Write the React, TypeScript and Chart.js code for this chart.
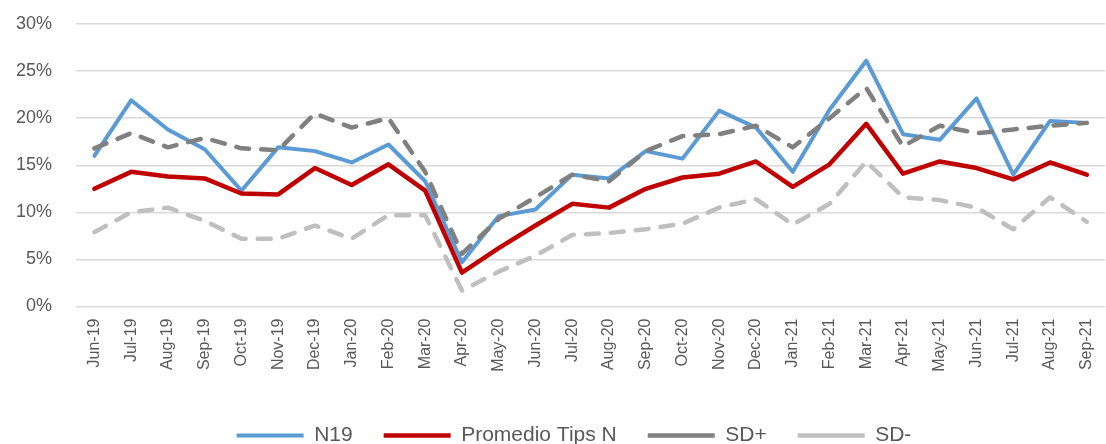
import React, { useEffect, useRef } from "react";
import { Chart, registerables } from "chart.js";

Chart.register(...registerables);

const months = [
  "Jun-19", "Jul-19", "Aug-19", "Sep-19", "Oct-19", "Nov-19", "Dec-19",
  "Jan-20", "Feb-20", "Mar-20", "Apr-20", "May-20", "Jun-20", "Jul-20",
  "Aug-20", "Sep-20", "Oct-20", "Nov-20", "Dec-20", "Jan-21", "Feb-21",
  "Mar-21", "Apr-21", "May-21", "Jun-21", "Jul-21", "Aug-21", "Sep-21",
];

const n19 = [
  16.0, 21.9, 18.8, 16.7, 12.3, 16.9, 16.5, 15.3, 17.2, 13.3, 4.7, 9.6, 10.3, 14.0,
  13.6, 16.5, 15.7, 20.8, 19.0, 14.3, 20.9, 26.1, 18.3, 17.7, 22.1, 14.0, 19.7, 19.5,
];

const promedioTipsN = [
  12.5, 14.3, 13.8, 13.6, 12.0, 11.9, 14.7, 12.9, 15.1, 12.3, 3.6, 6.2, 8.6, 10.9,
  10.5, 12.5, 13.7, 14.1, 15.4, 12.7, 15.1, 19.4, 14.1, 15.4, 14.7, 13.5, 15.3, 14.0,
];

const sdPlus = [
  16.8, 18.4, 16.9, 17.9, 16.8, 16.6, 20.5, 19.0, 20.0, 14.3, 5.6, 9.3, 11.6, 14.0,
  13.3, 16.5, 18.1, 18.3, 19.2, 16.9, 20.0, 23.2, 17.0, 19.2, 18.4, 18.8, 19.2, 19.5,
];

const sdMinus = [
  7.9, 10.0, 10.5, 9.1, 7.2, 7.2, 8.6, 7.2, 9.7, 9.7, 1.7, 3.7, 5.4, 7.6,
  7.8, 8.2, 8.8, 10.5, 11.4, 8.7, 10.9, 15.4, 11.6, 11.3, 10.5, 8.2, 11.6, 9.0,
];

const seriesNames = ["N19", "Promedio Tips N", "SD+", "SD-"];
const yTickMax = 30;
const yTickStep = 5;

const TEXT = "#595959";

const legendShift = {
  id: "legendShift",
  afterLayout(chart: any) {
    if (chart.legend) {
      chart.legend.left += 10;
      chart.legend.right += 10;
    }
  },
};

export default function App() {
  const ref = useRef<HTMLCanvasElement>(null);

  useEffect(() => {
    if (!ref.current) return;
    const common = {
      pointRadius: 0,
      pointHoverRadius: 0,
      tension: 0,
      fill: false,
      borderCapStyle: "round" as const,
      borderJoinStyle: "round" as const,
    };
    const chart = new Chart(ref.current, {
      type: "line",
      data: {
        labels: months,
        datasets: [
          {
            ...common,
            label: seriesNames[0],
            data: n19,
            borderColor: "#5B9BD5",
            backgroundColor: "#5B9BD5",
            borderWidth: 4,
            order: 4,
          },
          {
            ...common,
            label: seriesNames[1],
            data: promedioTipsN,
            borderColor: "#C00000",
            backgroundColor: "#C00000",
            borderWidth: 4.5,
            order: 3,
          },
          {
            ...common,
            label: seriesNames[2],
            data: sdPlus,
            borderColor: "#808080",
            backgroundColor: "#808080",
            borderWidth: 4.5,
            borderDash: [13, 12],
            order: 2,
          },
          {
            ...common,
            label: seriesNames[3],
            data: sdMinus,
            borderColor: "#BFBFBF",
            backgroundColor: "#BFBFBF",
            borderWidth: 4.5,
            borderDash: [13, 12],
            order: 1,
          },
        ],
      },
      options: {
        responsive: false,
        animation: false,
        events: [],
        layout: { padding: { left: 10, right: 0, top: 24, bottom: 0 } },
        plugins: {
          tooltip: { enabled: false },
          legend: {
            position: "bottom",
            labels: {
              usePointStyle: true,
              pointStyle: "line",
              pointStyleWidth: 67,
              padding: 31,
              color: TEXT,
              font: { family: "'Liberation Sans', Arial, sans-serif", size: 21 },
              sort: (a: any, b: any) => a.datasetIndex - b.datasetIndex,
            },
          },
        },
        scales: {
          x: {
            offset: true,
            grid: { display: false, drawTicks: false },
            border: { display: false },
            ticks: {
              autoSkip: false,
              maxRotation: 90,
              minRotation: 90,
              padding: 12,
              color: TEXT,
              font: { family: "'Liberation Sans', Arial, sans-serif", size: 16 },
            },
            afterFit: (s: any) => {
              s.height = 87.5;
            },
          },
          y: {
            min: 0,
            max: yTickMax,
            grid: { color: "#D9D9D9", lineWidth: 1.5, drawTicks: false },
            border: { display: false },
            ticks: {
              stepSize: yTickStep,
              padding: 24,
              color: TEXT,
              font: { family: "'Liberation Sans', Arial, sans-serif", size: 18 },
              callback: (v: any) => `${v}%`,
            },
            afterFit: (s: any) => {
              s.width = 66;
              s.paddingTop = 0;
              s.paddingBottom = 0;
            },
          },
        },
      },
      plugins: [legendShift],
    });
    return () => chart.destroy();
  }, []);

  return (
    <div
      style={{
        position: "fixed",
        left: 0,
        top: 0,
        width: 1106,
        height: 444,
        overflow: "hidden",
        background: "#ffffff",
      }}
    >
      <canvas
        ref={ref}
        width={1118}
        height={456}
        style={{ width: 1118, height: 456, display: "block" }}
      />
    </div>
  );
}
